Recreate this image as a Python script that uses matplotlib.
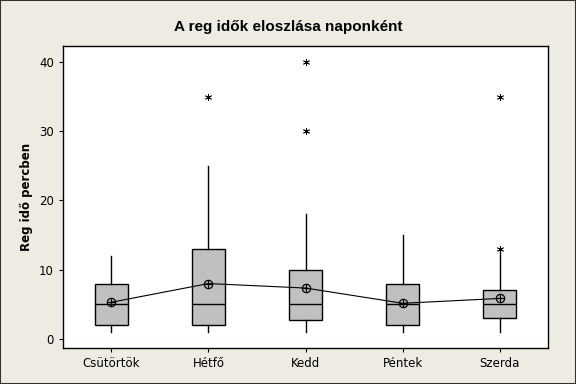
import matplotlib
matplotlib.use("Agg")
import matplotlib.pyplot as plt
from matplotlib.patches import Rectangle

days = ["Csütörtök", "Hétfő", "Kedd", "Péntek", "Szerda"]
q1 = [2, 2, 2.7, 2, 3]
median = [5, 5, 5, 5, 5]
q3 = [8, 13, 10, 8, 7]
whisker_low = [1, 1, 1, 1, 1]
whisker_high = [12, 25, 18, 15, 12.5]
outliers = [[], [35], [30, 40], [], [13, 35]]
means = [5.3, 8.0, 7.35, 5.15, 5.85]

bg = "#eeebe2"
plt.rcParams["font.family"] = ["DejaVu Sans"]

fig = plt.figure(figsize=(5.76, 3.84), dpi=100, facecolor=bg)
fig.patches.append(Rectangle((0, 0), 1, 1, transform=fig.transFigure, fill=False,
                             edgecolor="#333333", linewidth=1.5))
ax = fig.add_axes([0.109, 0.093, 0.843, 0.787])

stats = []
for i in range(len(days)):
    stats.append(dict(label=days[i], q1=q1[i], med=median[i], q3=q3[i],
                      whislo=whisker_low[i], whishi=whisker_high[i],
                      fliers=outliers[i], mean=means[i]))

pos = list(range(1, len(days) + 1))
ax.bxp(stats, positions=pos, widths=0.34, patch_artist=True, showcaps=False,
       boxprops=dict(facecolor="#c0c0c0", edgecolor="black", linewidth=1),
       medianprops=dict(color="black", linewidth=1),
       whiskerprops=dict(color="black", linewidth=1),
       flierprops=dict(marker=(6, 2, 0), markersize=5, markeredgecolor="black",
                       markeredgewidth=0.6, linestyle="none"))

# mean symbols and connecting line
ax.plot(pos, means, color="black", linewidth=0.8, zorder=4)
ax.plot(pos, means, linestyle="none", marker="o", markersize=6,
        markerfacecolor="none", markeredgecolor="black", markeredgewidth=0.9, zorder=5)
ax.plot(pos, means, linestyle="none", marker="+", markersize=6,
        markeredgecolor="black", markeredgewidth=0.9, zorder=5)

ax.set_xlim(0.5, 5.5)
ax.set_ylim(-1.35, 42.3)
ax.set_yticks([0, 10, 20, 30, 40])
ax.set_xticks(pos)
ax.set_xticklabels(days)
ax.tick_params(labelsize=8.5, length=3, width=0.8, colors="black")
for s in ax.spines.values():
    s.set_linewidth(1)

ax.set_ylabel("Reg idő percben", fontsize=8.5, fontweight="bold", labelpad=4)
fig.text(0.5, 0.93, "A reg idők eloszlása naponként", ha="center", va="center",
         fontsize=11, fontweight="bold", family="Liberation Sans")

fig.savefig("out.png", dpi=100, facecolor=bg)
